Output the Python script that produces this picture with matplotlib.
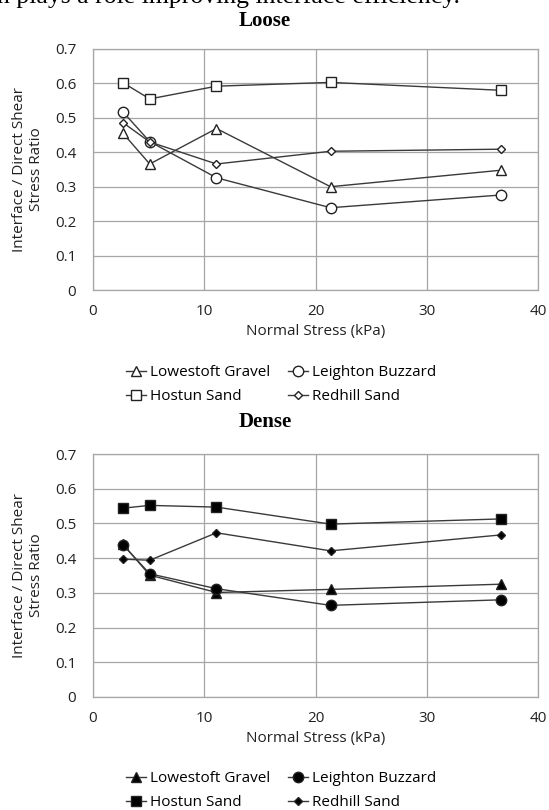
import numpy as np
import matplotlib
matplotlib.use("Agg")
import matplotlib.pyplot as plt

# ---------------------------
# data
# ---------------------------
normal_stress = [2.7, 5.1, 11.1, 21.35, 36.7]

series_names = ["Lowestoft Gravel", "Leighton Buzzard", "Hostun Sand", "Redhill Sand"]
series_markers = ["^", "o", "s", "D"]
series_msize = [7, 7.5, 7.5, 4.5]

loose_lowestoft = [0.455, 0.366, 0.469, 0.300, 0.348]
loose_leighton = [0.517, 0.431, 0.326, 0.239, 0.276]
loose_hostun = [0.602, 0.555, 0.592, 0.603, 0.580]
loose_redhill = [0.486, 0.430, 0.366, 0.403, 0.409]

dense_lowestoft = [0.440, 0.351, 0.301, 0.310, 0.325]
dense_leighton = [0.438, 0.355, 0.312, 0.264, 0.280]
dense_hostun = [0.544, 0.552, 0.547, 0.498, 0.513]
dense_redhill = [0.397, 0.394, 0.473, 0.421, 0.467]

x_ticks = [0, 10, 20, 30, 40]
y_ticks = [0, 0.1, 0.2, 0.3, 0.4, 0.5, 0.6, 0.7]
y_ticklabels = ["0", "0.1", "0.2", "0.3", "0.4", "0.5", "0.6", "0.7"]

# ---------------------------
# figure geometry (pixels)
# ---------------------------
W, H = 549, 810
dpi = 100
fig = plt.figure(figsize=(W / dpi, H / dpi), dpi=dpi)
fig.patch.set_facecolor("white")

sans = ["Open Sans", "DejaVu Sans"]
serif = ["Liberation Serif", "DejaVu Serif"]
line_col = "#3a3a3a"
grid_col = "#a6a6a6"
txt_col = "#222222"
fs = 11


def px_rect(left, top, right, bottom):
    return [left / W, 1 - bottom / H, (right - left) / W, (bottom - top) / H]


def draw_panel(rect, title, title_y, data, filled, legend_y):
    ax = fig.add_axes(rect)
    lines = []
    for vals, name, mk, ms in zip(data, series_names, series_markers, series_msize):
        ln, = ax.plot(normal_stress, vals, color=line_col, lw=1.0, marker=mk,
                      markersize=ms, markeredgewidth=1.0, markeredgecolor="#222222",
                      markerfacecolor="black" if filled else "white", label=name,
                      zorder=3)
        lines.append(ln)
    ax.set_xlim(0, 40)
    ax.set_ylim(0, 0.7)
    ax.set_xticks(x_ticks)
    ax.set_yticks(y_ticks)
    ax.set_yticklabels(y_ticklabels)
    ax.grid(True, color=grid_col, lw=0.9)
    ax.set_axisbelow(True)
    for sp in ax.spines.values():
        sp.set_color(grid_col)
        sp.set_linewidth(0.9)
    ax.tick_params(length=0, pad=12, labelsize=fs, labelcolor=txt_col)
    ax.tick_params(axis="x", pad=10)
    for lab in ax.get_xticklabels() + ax.get_yticklabels():
        lab.set_family(sans)
    ax.set_xlabel("Normal Stress (kPa)", fontsize=fs, family=sans,
                  color=txt_col, labelpad=4)
    ax.set_ylabel("Interface / Direct Shear\nStress Ratio", fontsize=fs,
                  family=sans, color=txt_col, labelpad=8, linespacing=1.2)
    fig.text(265 / W, 1 - title_y / H, title, ha="center", va="center",
             fontsize=15, fontweight="bold", family=serif)
    # two rows: Lowestoft / Leighton on top, Hostun / Redhill below
    order = [0, 2, 1, 3]
    ax.legend([lines[i] for i in order], [series_names[i] for i in order],
              loc="upper left", bbox_to_anchor=(120 / W, 1 - legend_y / H),
              bbox_transform=fig.transFigure, ncol=2, frameon=False,
              handlelength=1.3, handletextpad=0.25, columnspacing=1.2,
              labelspacing=0.6, borderaxespad=0,
              prop={"family": sans, "size": fs})
    return ax


draw_panel(px_rect(93, 49, 538, 290), "Loose", 21,
           [loose_lowestoft, loose_leighton, loose_hostun, loose_redhill],
           False, 359)
draw_panel(px_rect(93, 454, 538, 697), "Dense", 422,
           [dense_lowestoft, dense_leighton, dense_hostun, dense_redhill],
           True, 765)

# running text from the page above the figure, cut at the top edge
fig.text(-3 / W, 1 - 3 / H, "n plays a role improving interface efficiency.",
         ha="left", va="baseline", fontsize=18.5, family=serif)

fig.savefig("out.png", dpi=dpi)
